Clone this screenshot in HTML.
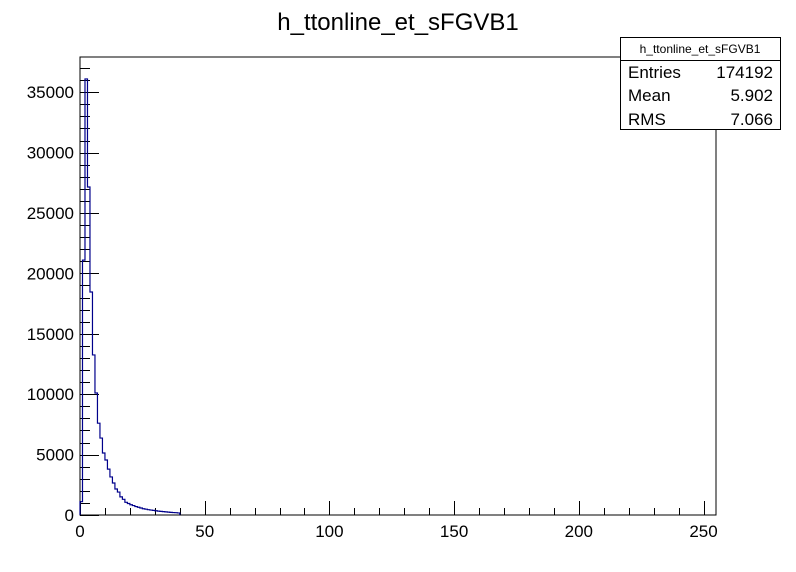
<!DOCTYPE html>
<html><head><meta charset="utf-8"><style>
body{margin:0;background:#fff;width:796px;height:572px;overflow:hidden}
svg{display:block;font-family:"Liberation Sans",sans-serif}
</style></head><body>
<svg id="c" width="796" height="572">
<rect x="0" y="0" width="796" height="572" fill="#fff"/>
<text x="398" y="30" font-size="24" text-anchor="middle">h_ttonline_et_sFGVB1</text>
<rect x="80" y="57" width="636" height="458" fill="none" stroke="#000" stroke-width="1"/>
<g id="axes"></g>
<path id="hist" fill="none" stroke="#00008b" stroke-width="1.2"/>
<g>
<rect x="620.5" y="37.5" width="160" height="92" fill="#fff" stroke="#000"/>
<line x1="620.5" y1="60.5" x2="780.5" y2="60.5" stroke="#000"/>
<text x="700" y="53" font-size="12" text-anchor="middle">h_ttonline_et_sFGVB1</text>
<text x="628" y="78" font-size="17">Entries</text>
<text x="773" y="78" font-size="17" text-anchor="end">174192</text>
<text x="628" y="101" font-size="17">Mean</text>
<text x="773" y="101" font-size="17" text-anchor="end">5.902</text>
<text x="628" y="125" font-size="17">RMS</text>
<text x="773" y="125" font-size="17" text-anchor="end">7.066</text>
</g>
</svg>
<script>
const binValues=[1100,21100,36100,27150,18460,13250,10100,7600,6370,5130,4550,3800,3150,2650,2150,1900,1500,1300,1050,950,850,780,700,640,580,520,480,440,410,380,350,320,300,280,260,240,220,200,190,170];
const xTickLabels=[0,50,100,150,200,250];
const yTickLabels=[0,5000,10000,15000,20000,25000,30000,35000];
const xMin=0,xMax=255,yMin=0,yMax=37914;
const L=80,R=716,T=57,B=515;
function sx(v){return L+(v-xMin)/(xMax-xMin)*(R-L);}
function sy(v){return B-(v-yMin)/(yMax-yMin)*(B-T);}
const NS="http://www.w3.org/2000/svg";
const ax=document.getElementById('axes');
function line(x1,y1,x2,y2,name){const l=document.createElementNS(NS,'line');l.setAttribute('x1',x1);l.setAttribute('y1',y1);l.setAttribute('x2',x2);l.setAttribute('y2',y2);l.setAttribute('stroke','#000');


ax.appendChild(l);}
function text(x,y,s,anchor,name){const t=document.createElementNS(NS,'text');t.setAttribute('x',x);t.setAttribute('y',y);t.setAttribute('font-size','17');t.setAttribute('text-anchor',anchor);t.textContent=s;


ax.appendChild(t);}
for(let v=0;v<=xMax;v+=10){const x=Math.round(sx(v))+0.5;const major=v%50===0;line(x,B,x,B-(major?14:7),major?'x-major-tick':'x-minor-tick');}
xTickLabels.forEach(v=>text(sx(v),537,String(v),'middle','x-tick-label'));
for(let v=0;v<=yMax;v+=1000){const y=Math.round(sy(v))+0.5;const major=v%5000===0;line(L,y,L+(major?19:10),y,major?'y-major-tick':'y-minor-tick');}
yTickLabels.forEach(v=>text(74,sy(v)+6,String(v),'end','y-tick-label'));
let d='M'+sx(0)+','+sy(0);
binValues.forEach((v,i)=>{d+=' L'+sx(i)+','+sy(v)+' L'+sx(i+1)+','+sy(v);});
d+=' L'+sx(binValues.length)+','+sy(0);
document.getElementById('hist').setAttribute('d',d);
</script>
</body></html>
